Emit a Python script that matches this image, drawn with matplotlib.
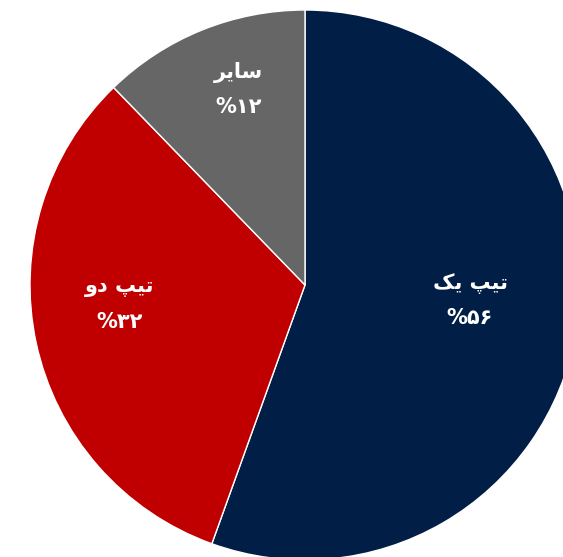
import numpy as np
import matplotlib.pyplot as plt

# data (clockwise from top); slice sizes,
# shown labels are the rounded percentages
names = ["تیپ یک", "تیپ دو", "سایر"]
# visual-order, pre-shaped forms (matplotlib does no Arabic shaping / bidi)
names_vis = ["\uFB8F\uFBFE \uFB57\uFBFF\uFE97",
             "\uFEED\uFEA9 \uFB57\uFBFF\uFE97",
             "\uFEAE\uFBFE\uFE8E\uFEB3"]
shares = [55.5, 32.25, 12.25]
pct_labels = ["%\u06F5\u06F6", "%\u06F3\u06F2", "%\u06F1\u06F2"]
colors_ = ["#001e46", "#c00000", "#666666"]

# label placement: fraction of radius along bisector + small nudge (px)
label_r = [0.62, 0.68, 0.72]
nudge = [(-3, 13), (-3, 19), (8, 11)]

fig = plt.figure(figsize=(5.63, 5.57), dpi=100)
ax = fig.add_axes([0, 0, 1, 1])

cx, cy, R = 305, 557 - 285, 275
wedges, _ = ax.pie(shares, colors=colors_, startangle=90, counterclock=False,
                   center=(cx, cy), radius=R,
                   wedgeprops=dict(edgecolor="white", linewidth=1))

for w, name, pct, r, (dx, dy) in zip(wedges, names_vis, pct_labels, label_r, nudge):
    ang = np.deg2rad((w.theta1 + w.theta2) / 2)
    x = cx + r * R * np.cos(ang) + dx
    y = cy + r * R * np.sin(ang) + dy
    ax.text(x, y + 18, name, ha="center", va="center", color="white",
            fontsize=15, fontweight="bold", family=["DejaVu Sans"])
    ax.text(x, y - 17, pct, ha="center", va="center", color="white",
            fontsize=15, fontweight="bold", family=["DejaVu Sans"])

ax.set_xlim(0, 563)
ax.set_ylim(0, 557)
ax.set_aspect("equal")
ax.axis("off")

fig.savefig("out.png", dpi=100)
